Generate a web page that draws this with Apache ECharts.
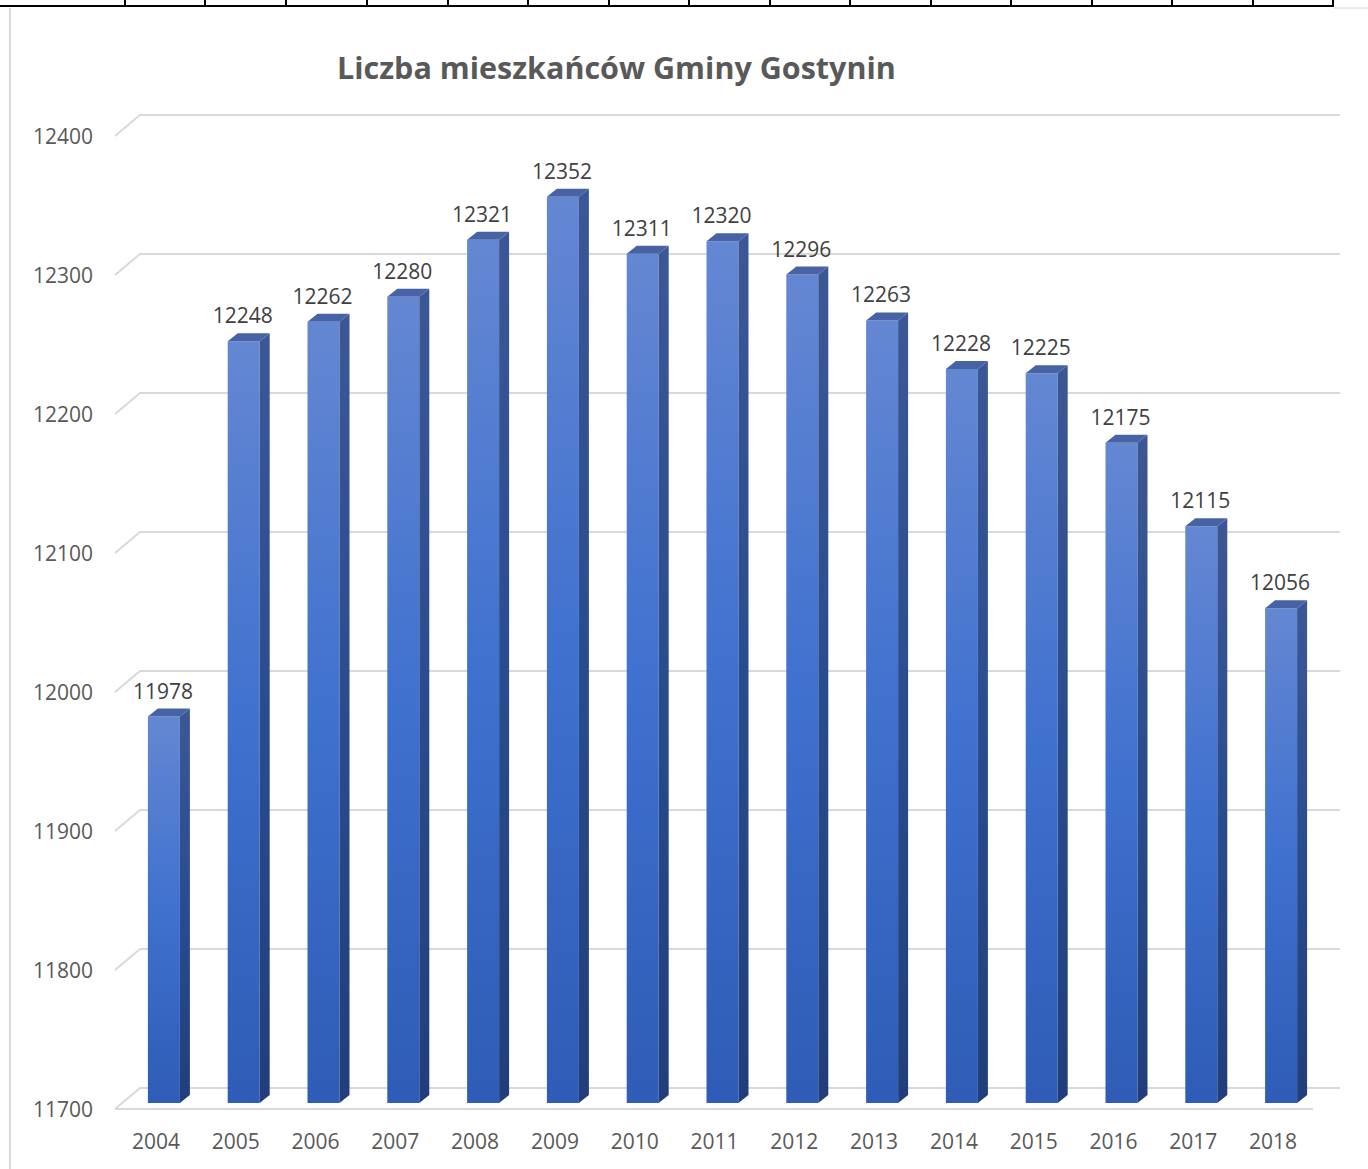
<!DOCTYPE html>
<html>
<head>
<meta charset="utf-8">
<script src="https://cdn.jsdelivr.net/npm/echarts@6/dist/echarts.min.js"></script>
<style>
  html, body { margin: 0; padding: 0; background: #fff; }
  #chart { width: 1368px; height: 1169px; }
</style>
</head>
<body>
<div id="chart"></div>
<script>
  // dane
  const years = ['2004', '2005', '2006', '2007', '2008', '2009', '2010', '2011',
                 '2012', '2013', '2014', '2015', '2016', '2017', '2018']
  const residents = [11978, 12248, 12262, 12280, 12321, 12352, 12311, 12320,
                     12296, 12263, 12228, 12225, 12175, 12115, 12056]
  const yTicks = [11700, 11800, 11900, 12000, 12100, 12200, 12300, 12400]

  const Y_MIN = 11700
  const FONT = '"Open Sans", "Noto Sans", sans-serif'

  // przesuniecia "3D" wzgledem plaszczyzny slupkow
  const FRONT = [-7, 6]
  const BACK = [18, -15]
  const DEPTH = [10, -8]

  // krawedz arkusza (tylko dekoracja)
  const sheetCols = [125, 205, 286, 367, 448, 528, 609, 689, 770, 850, 931, 1011, 1092, 1172, 1253, 1333]

  const chart = echarts.init(document.getElementById('chart'), null, { renderer: 'svg' })

  const sheetGraphic = [
    { type: 'line', shape: { x1: 0, y1: 6, x2: 1334, y2: 6 }, style: { stroke: '#000', lineWidth: 2 } },
    { type: 'line', shape: { x1: 1334, y1: 8, x2: 1368, y2: 8 }, style: { stroke: '#d4d4d4', lineWidth: 1 } },
    { type: 'line', shape: { x1: 10, y1: 8, x2: 10, y2: 1169 }, style: { stroke: '#d9d9d9', lineWidth: 2 } }
  ].concat(sheetCols.map(x => ({
    type: 'line', shape: { x1: x, y1: 0, x2: x, y2: 6 }, style: { stroke: '#000', lineWidth: 2 }
  })))

  const frontGrad = new echarts.graphic.LinearGradient(0, 0, 0, 1, [
    { offset: 0, color: '#6487d2' },
    { offset: 0.5, color: '#3f71cf' },
    { offset: 1, color: '#2e5cb6' }
  ])
  const sideGrad = new echarts.graphic.LinearGradient(0, 0, 0, 1, [
    { offset: 0, color: '#3c5796' },
    { offset: 0.5, color: '#2a4c8e' },
    { offset: 1, color: '#213e7a' }
  ])

  const option = {
    animation: false,
    backgroundColor: '#fff',
    title: {
      text: 'Liczba mieszkańców Gminy Gostynin',
      left: 332,
      top: 46,
      textStyle: { fontFamily: FONT, fontSize: 30.5, fontWeight: 'bold', color: '#595959' }
    },
    graphic: sheetGraphic,
    grid: { left: 124, right: 47, top: 130, bottom: 66 },
    xAxis: {
      type: 'category',
      data: years,
      axisLine: { show: false },
      axisTick: { show: false },
      axisLabel: {
        margin: 27,
        padding: [0, 16, 0, 0],
        fontFamily: FONT, fontSize: 21, color: '#595959'
      }
    },
    yAxis: {
      type: 'value',
      min: 11700,
      max: 12400,
      interval: 100,
      splitLine: { show: false },
      axisLine: { show: false },
      axisTick: { show: false },
      axisLabel: { show: false }
    },
    series: [
      {
        // linie siatki na tylnej scianie + skos + opisy osi Y
        type: 'custom',
        silent: true,
        z: 1,
        data: yTicks.map(v => [0, v]),
        renderItem: function (params, api) {
          const cs = params.coordSys
          const y = api.coord([0, api.value(1)])[1]
          const xl = cs.x - 2
          const xr = cs.x + cs.width
          const pts = [
            [xl + FRONT[0], y + FRONT[1]],
            [xl + BACK[0], y + BACK[1]],
            [xr + BACK[0] + 1, y + BACK[1]]
          ]
          const children = [{
            type: 'polyline',
            shape: { points: pts },
            style: { stroke: '#d9d9d9', lineWidth: 2, fill: null }
          }, {
            type: 'text',
            style: {
              text: String(api.value(1)),
              x: 93,
              y: y + FRONT[1],
              align: 'right',
              verticalAlign: 'middle',
              font: '21px ' + FONT,
              fill: '#595959'
            }
          }]
          if (api.value(1) === Y_MIN) {
            children.push({
              type: 'line',
              shape: { x1: xl + FRONT[0], y1: y + FRONT[1], x2: xr - 8, y2: y + FRONT[1] },
              style: { stroke: '#d9d9d9', lineWidth: 2 }
            })
          }
          return { type: 'group', children: children }
        }
      },
      {
        // slupki 3D
        type: 'custom',
        z: 2,
        data: residents.map((v, i) => [i, v]),
        renderItem: function (params, api) {
          const top = api.coord([api.value(0), api.value(1)])
          const base = api.coord([api.value(0), Y_MIN])
          const w = 32
          const x0 = top[0] - w / 2
          const x1 = top[0] + w / 2
          const yt = top[1]
          const yb = base[1]
          const dx = DEPTH[0], dy = DEPTH[1]
          return {
            type: 'group',
            children: [
              {
                type: 'rect',
                shape: { x: x0, y: yt, width: w, height: yb - yt },
                style: { fill: frontGrad }
              },
              {
                type: 'polygon',
                shape: { points: [[x1, yt], [x1 + dx, yt + dy], [x1 + dx, yb + dy], [x1, yb]] },
                style: { fill: sideGrad }
              },
              {
                type: 'polygon',
                shape: { points: [[x0, yt], [x1, yt], [x1 + dx, yt + dy], [x0 + dx, yt + dy]] },
                style: { fill: '#4763a6' }
              },
              {
                type: 'text',
                style: {
                  text: String(api.value(1)),
                  x: top[0] - 1,
                  y: yt - 26,
                  align: 'center',
                  verticalAlign: 'middle',
                  font: '21px ' + FONT,
                  fill: '#404040'
                }
              }
            ]
          }
        }
      }
    ]
  }

  chart.setOption(option)

  window.addEventListener('resize', () => {
    chart.resize()
  })
</script>
</body>
</html>
